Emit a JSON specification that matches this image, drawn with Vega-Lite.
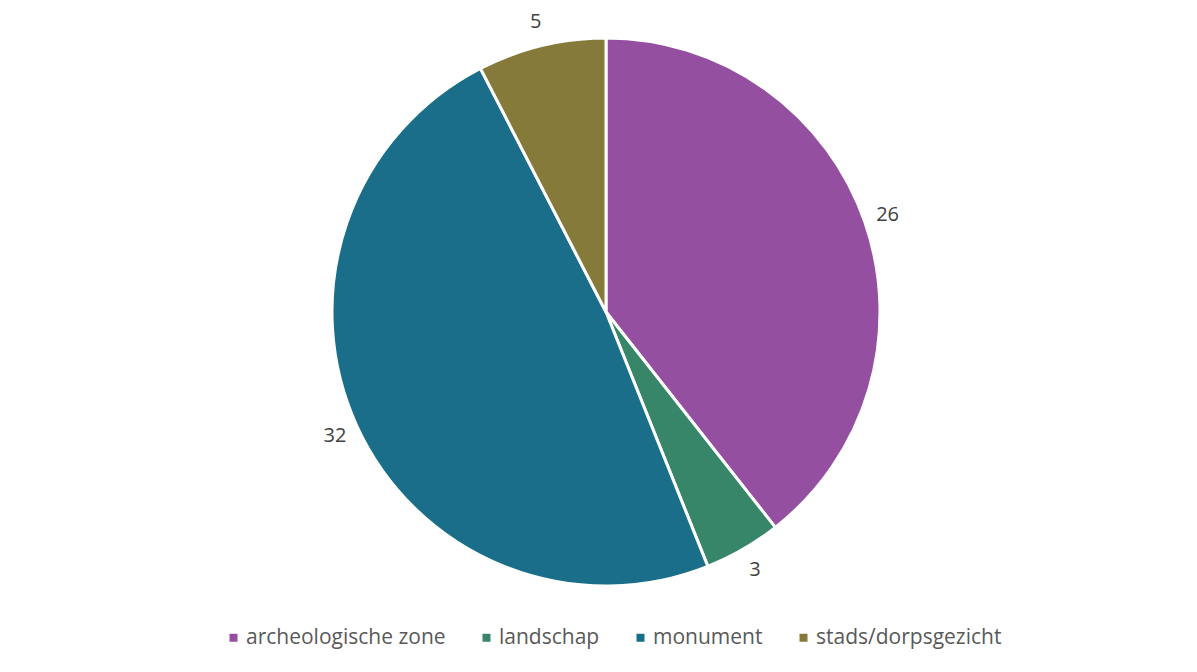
{
  "$schema": "https://vega.github.io/schema/vega-lite/v6.json",
  "width": 1202,
  "height": 610,
  "autosize": {"type": "none"},
  "padding": {"left": 5, "top": 7, "right": 0, "bottom": 55},
  "background": "white",
  "config": {"view": {"stroke": null}, "font": "Open Sans"},
  "data": {
    "values": [
      {"category": "archeologische zone", "count": 26},
      {"category": "landschap", "count": 3},
      {"category": "monument", "count": 32},
      {"category": "stads/dorpsgezicht", "count": 5}
    ]
  },
  "encoding": {
    "theta": {"field": "count", "type": "quantitative", "stack": true},
    "order": {"field": "category", "type": "nominal"}
  },
  "layer": [
    {
      "mark": {"type": "arc", "outerRadius": 274, "stroke": "white", "strokeWidth": 3},
      "encoding": {
        "color": {
          "field": "category",
          "type": "nominal",
          "sort": null,
          "scale": {
            "domain": ["archeologische zone", "landschap", "monument", "stads/dorpsgezicht"],
            "range": ["#944FA0", "#37866A", "#1A6E89", "#857A3A"]
          },
          "legend": {
            "orient": "none",
            "legendX": 218,
            "legendY": 620,
            "direction": "horizontal",
            "title": null,
            "symbolType": "square",
            "symbolSize": 64,
            "symbolStrokeWidth": 0,
            "labelFontSize": 21,
            "labelLimit": 0,
            "labelColor": "#595959",
            "labelFont": "Open Sans",
            "columnPadding": 30,
            "labelOffset": 2
          }
        }
      }
    },
    {
      "mark": {"type": "text", "radius": 298, "fontSize": 20, "fill": "#404040", "font": "Open Sans"},
      "encoding": {
        "detail": {"field": "category", "type": "nominal"},
        "text": {"field": "count", "type": "quantitative"}
      }
    }
  ]
}
